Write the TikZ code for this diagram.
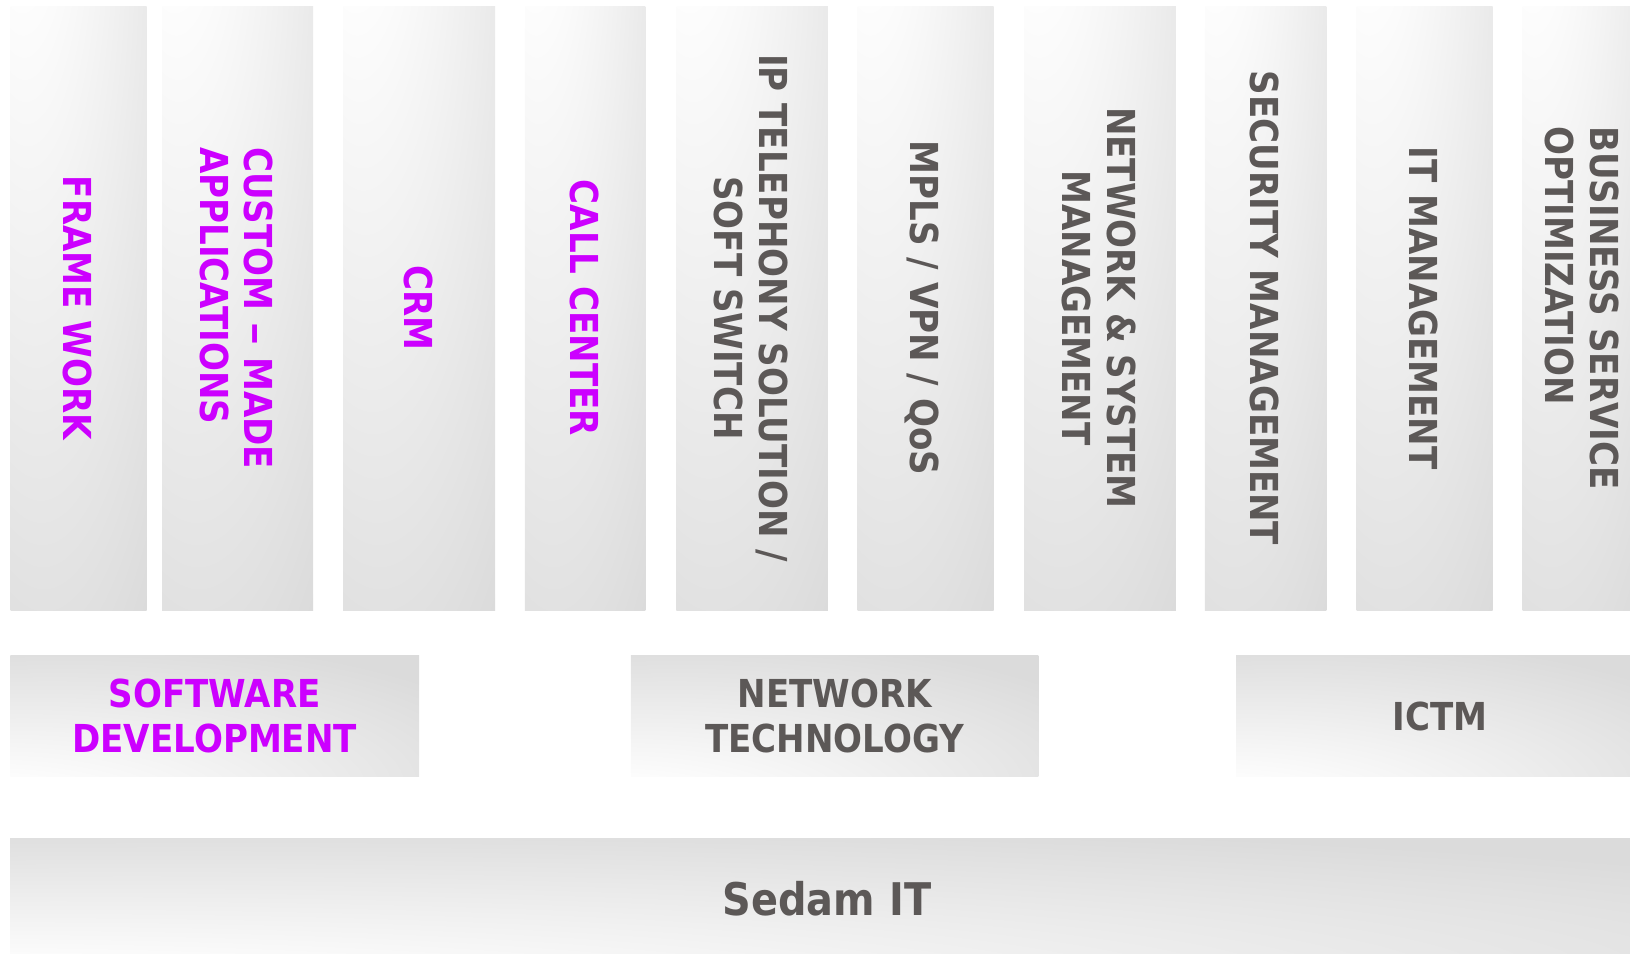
\documentclass[tikz,border=0pt]{standalone}
\usepackage{fontspec}
\setmainfont{DejaVu Sans}[FakeStretch=0.885]
\usetikzlibrary{positioning}

\definecolor{boxgrey}{RGB}{219,219,219}
\definecolor{appmagenta}{RGB}{204,0,255}
\definecolor{labelgrey}{RGB}{92,88,87}

\pgfdeclareradialshading{columnglow}{\pgfpoint{-25bp}{50bp}}{color(0bp)=(white); color(14bp)=(white); color(58bp)=(boxgrey); color(100bp)=(boxgrey)}
\pgfdeclareradialshading{barglow}{\pgfpoint{-35bp}{-50bp}}{color(0bp)=(white); color(14bp)=(white); color(55bp)=(boxgrey); color(100bp)=(boxgrey)}

\newcommand{\sidetext}[2][c]{\rotatebox{-90}{\begin{tabular}{@{}#1@{}}#2\end{tabular}}\kern12pt}

\begin{document}
\begin{tikzpicture}[x=1pt, y=-1pt]
    \tikzstyle{every node}=[inner sep=0pt, font=\bfseries\fontsize{38.5}{44.5}\selectfont]
    \tikzstyle{column}=[shade, shading=columnglow, minimum height=604pt]
    \tikzstyle{bar}=[shade, shading=barglow, minimum height=120.5pt, align=center]
    \tikzstyle{app}=[text=appmagenta]
    \tikzstyle{net}=[text=labelgrey]

    \useasboundingbox (0,0) rectangle (1630,953);
    \clip (0,0) rectangle (1630,953);

    \node[column, app, minimum width=136pt]   (framework) at (78.5,308)  {\sidetext{FRAME WORK}};
    \node[column, app, minimum width=151pt]   (custom)    at (237.5,308) {\sidetext[l]{CUSTOM \scalebox{1.35}[1]{–} MADE\\APPLICATIONS}};
    \node[column, app, minimum width=152pt]   (crm)       at (419,308)   {\sidetext{CRM}};
    \node[column, app, minimum width=120.5pt] (callcenter) at (585,308)  {\sidetext{CALL CENTER}};
    \node[column, net, minimum width=151.5pt] (telephony) at (752,308)   {\sidetext{IP TELEPHONY SOLUTION /\\SOFT SWITCH}};
    \node[column, net, minimum width=136pt]   (mpls)      at (925.7,308) {\sidetext{MPLS / VPN / QoS}};
    \node[column, net, minimum width=151.7pt] (netsys)    at (1100,308)  {\sidetext{NETWORK \& SYSTEM\\MANAGEMENT}};
    \node[column, net, minimum width=121.6pt] (security)  at (1265.6,308) {\sidetext{SECURITY MANAGEMENT}};
    \node[column, net, minimum width=136pt]   (itmgmt)    at (1424.6,308) {\sidetext{IT MANAGEMENT}};
    \node[column, net, minimum width=121pt]   (business)  at (1583,308)  {\sidetext[l]{BUSINESS SERVICE\\OPTIMIZATION}};

    \node[bar, app, minimum width=408.6pt] (software) at (214.7,716) {SOFTWARE\\DEVELOPMENT};
    \node[bar, net, minimum width=407.5pt] (network)  at (834.7,716) {NETWORK\\TECHNOLOGY};
    \node[bar, net, minimum width=408pt]   (ictm)     at (1440,716)  {ICTM};

    \node[bar, net, minimum width=1633.6pt, minimum height=122pt,
          font=\bfseries\fontsize{45}{50}\selectfont] (sedam) at (827,899) {Sedam IT};
\end{tikzpicture}
\end{document}
